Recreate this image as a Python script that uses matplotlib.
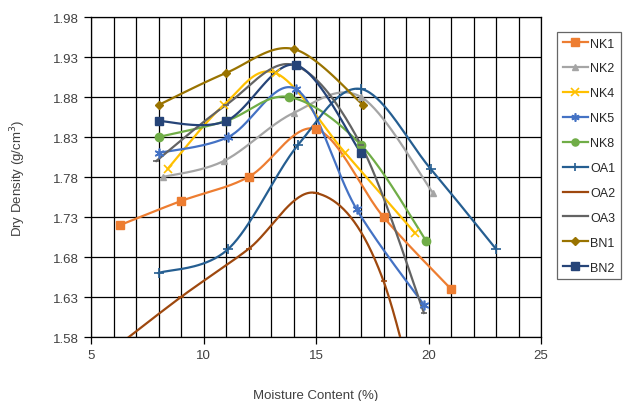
import numpy as np
import matplotlib
matplotlib.use("Agg")
import matplotlib.pyplot as plt
from matplotlib.lines import Line2D
from matplotlib.ticker import MultipleLocator, FixedLocator

plt.rcParams['font.family'] = ['Liberation Sans', 'DejaVu Sans']

# ---- data ----
nk1_x = [6.3, 9, 12, 15, 18, 21]
nk1_y = [1.72, 1.75, 1.78, 1.84, 1.73, 1.64]
nk2_x = [8.2, 10.9, 14.0, 17.0, 20.2]
nk2_y = [1.78, 1.80, 1.86, 1.88, 1.76]
nk4_x = [8.4, 10.9, 13.2, 16.3, 19.4]
nk4_y = [1.79, 1.87, 1.91, 1.81, 1.71]
nk5_x = [8.0, 11.1, 14.1, 16.8, 19.8]
nk5_y = [1.81, 1.83, 1.89, 1.74, 1.62]
nk8_x = [8.0, 11.0, 13.8, 17.0, 19.9]
nk8_y = [1.83, 1.85, 1.88, 1.82, 1.70]
oa1_x = [8.0, 11.1, 14.2, 17.0, 20.1, 23.0]
oa1_y = [1.66, 1.69, 1.82, 1.89, 1.79, 1.69]
oa2_x = [6.0, 9.0, 12.0, 15.0, 18.0, 21.0]
oa2_y = [1.565, 1.63, 1.69, 1.76, 1.65, 1.30]
oa3_x = [7.9, 11.0, 14.0, 17.0, 19.8]
oa3_y = [1.80, 1.87, 1.92, 1.82, 1.61]
bn1_x = [8.0, 11.0, 14.0, 17.1]
bn1_y = [1.87, 1.91, 1.94, 1.87]
bn2_x = [8.0, 11.0, 14.1, 17.0]
bn2_y = [1.85, 1.85, 1.92, 1.81]

names = ["NK1", "NK2", "NK4", "NK5", "NK8", "OA1", "OA2", "OA3", "BN1", "BN2"]
xs = [nk1_x, nk2_x, nk4_x, nk5_x, nk8_x, oa1_x, oa2_x, oa3_x, bn1_x, bn2_x]
ys = [nk1_y, nk2_y, nk4_y, nk5_y, nk8_y, oa1_y, oa2_y, oa3_y, bn1_y, bn2_y]
colors = ["#ED7D31", "#A5A5A5", "#FFC000", "#4472C4", "#70AD47",
          "#255E91", "#9E480E", "#636363", "#997300", "#264478"]
markers = ["s", "^", "x", (6, 2, 0), "o", "+", "_", "_", "D", "s"]
msizes = [6, 5, 6, 7, 6, 7, 5, 5, 4.5, 6]

xlim = (5, 25)
ylim = (1.58, 1.98)
yticks = [1.58, 1.63, 1.68, 1.73, 1.78, 1.83, 1.88, 1.93, 1.98]

fig = plt.figure(figsize=(6.25, 4.02), dpi=100)
ax = fig.add_axes([91/625, 64/402, 450/625, 320/402])
W, H = 450.0, 320.0


def smooth(x, y, n=40):
    x = np.asarray(x, float); y = np.asarray(y, float)
    px = (x - xlim[0]) / (xlim[1] - xlim[0]) * W
    py = (y - ylim[0]) / (ylim[1] - ylim[0]) * H
    P = np.column_stack([px, py])
    m = len(P)
    out = []
    for i in range(m - 1):
        p0 = P[i - 1] if i > 0 else P[i]
        p1 = P[i]; p2 = P[i + 1]
        p3 = P[i + 2] if i + 2 < m else P[i + 1]
        c1 = p1 + (p2 - p0) / 6.0
        c2 = p2 - (p3 - p1) / 6.0
        t = np.linspace(0, 1, n)[:, None]
        seg = ((1 - t) ** 3) * p1 + 3 * ((1 - t) ** 2) * t * c1 + 3 * (1 - t) * t ** 2 * c2 + t ** 3 * p2
        out.append(seg if i == 0 else seg[1:])
    S = np.vstack(out)
    sx = S[:, 0] / W * (xlim[1] - xlim[0]) + xlim[0]
    sy = S[:, 1] / H * (ylim[1] - ylim[0]) + ylim[0]
    return sx, sy


handles = []
for nm, x, y, c, mk, ms in zip(names, xs, ys, colors, markers, msizes):
    sx, sy = smooth(x, y)
    ax.plot(sx, sy, color=c, lw=1.6, zorder=3, clip_on=True)
    mew = 1.2 if mk in ("x", "+", "_") or isinstance(mk, tuple) else 1.0
    ax.plot(x, y, linestyle="none", marker=mk, color=c, markersize=ms,
            markeredgewidth=mew, zorder=4, clip_on=True)
    handles.append(Line2D([0], [0], color=c, lw=1.6, marker=mk, markersize=ms * 0.85,
                          markeredgewidth=mew, label=nm))

ax.set_xlim(*xlim)
ax.set_ylim(*ylim)
ax.xaxis.set_major_locator(FixedLocator([5, 10, 15, 20, 25]))
ax.xaxis.set_minor_locator(MultipleLocator(1))
ax.yaxis.set_major_locator(FixedLocator(yticks))
ax.set_yticklabels([f"{v:.2f}" for v in yticks])
ax.grid(True, which="major", color="black", lw=0.9)
ax.grid(True, which="minor", axis="x", color="black", lw=0.9)
ax.tick_params(axis="both", which="major", direction="out", length=5, width=0.9,
               labelsize=9.5, colors="black", labelcolor="#404040")
ax.tick_params(axis="x", which="minor", length=0)
for s in ax.spines.values():
    s.set_color("black"); s.set_linewidth(0.9)

ax.set_xlabel("Moisture Content (%)", fontsize=9.5, color="#404040", labelpad=20)
ax.set_ylabel("Dry Density (g/cm$^3$)", fontsize=9.5, color="#404040", labelpad=18)

leg = fig.legend(handles=handles, loc="upper left", bbox_to_anchor=(557/625, 1 - 33/402),
                 frameon=True, fontsize=9, handlelength=2.0, labelspacing=1.03,
                 borderpad=0.45, handletextpad=0.2, fancybox=False, borderaxespad=0)
leg.get_frame().set_edgecolor("#404040")
leg.get_frame().set_linewidth(0.9)
for t in leg.get_texts():
    t.set_color("#262626")

fig.savefig("out.png", dpi=100)
